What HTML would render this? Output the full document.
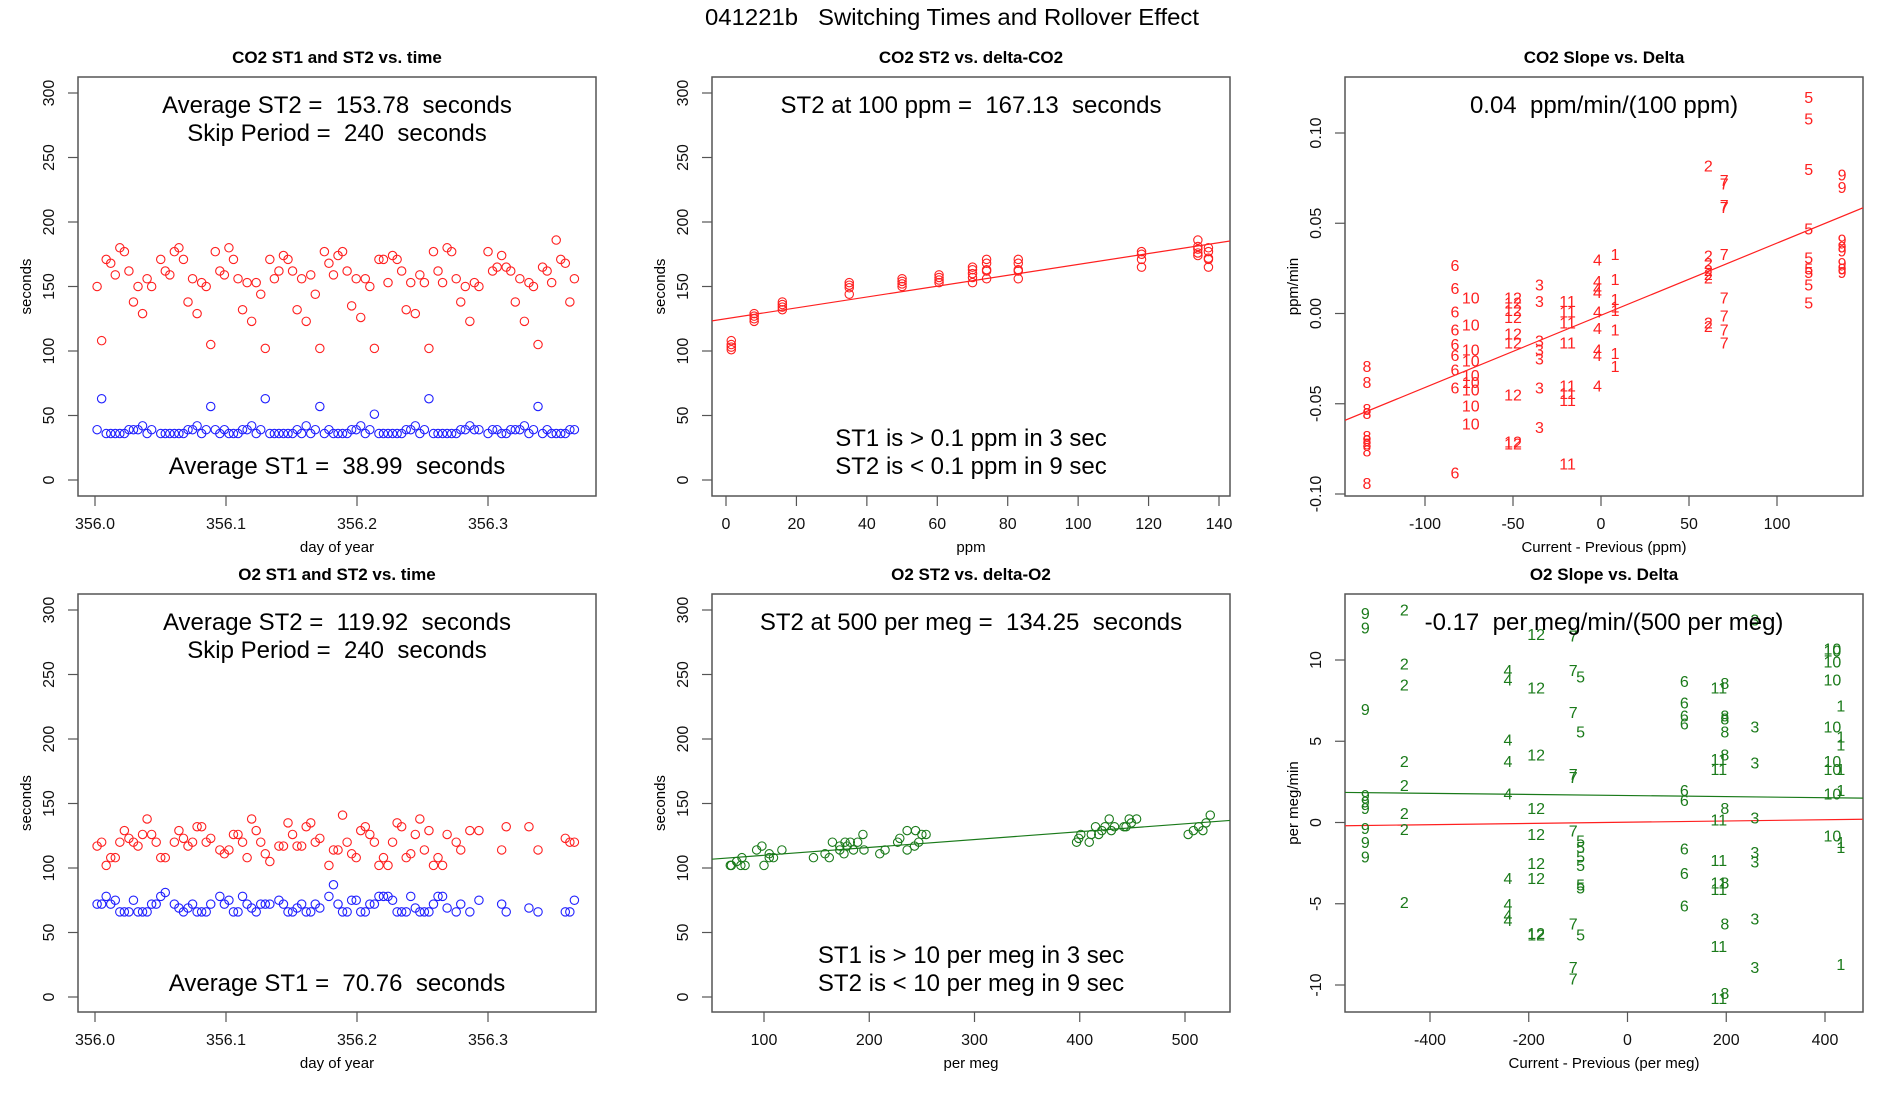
<!DOCTYPE html>
<html><head><meta charset="utf-8"><title>041221b Switching Times and Rollover Effect</title>
<style>html,body{margin:0;padding:0;background:#fff;}svg{display:block;font-family:"Liberation Sans",Arial,sans-serif;}svg text{white-space:pre;}</style>
</head><body>
<svg id="fig" width="1900" height="1100" viewBox="0 0 1900 1100" xmlns="http://www.w3.org/2000/svg" xml:space="preserve">
<rect x="0" y="0" width="1900" height="1100" fill="#fff"/>
<text x="952" y="25" font-size="23" text-anchor="middle" textLength="494" lengthAdjust="spacingAndGlyphs">041221b   Switching Times and Rollover Effect</text>
</svg>
<script>
// ---------- Panel 1: CO2 ST1/ST2 vs time (slot index -> time) ----------
const co2St2 = [150,108,171,168,159,180,177,162,138,150,129,156,150,null,171,162,159,177,180,171,138,156,129,153,150,105,177,162,159,180,171,156,132,153,123,153,144,102,171,156,162,174,171,162,132,156,123,159,144,102,177,168,159,174,177,162,135,156,126,156,150,102,171,171,153,174,171,162,132,153,129,159,153,102,177,162,153,180,177,156,138,150,123,153,150,null,177,162,165,174,165,162,138,156,123,153,150,105,165,162,153,186,171,168,138,156];
const co2St1 = [39,63,36,36,36,36,36,39,39,39,42,36,39,null,36,36,36,36,36,36,39,39,42,36,39,57,39,36,39,36,36,36,39,39,42,36,39,63,36,36,36,36,36,36,39,36,42,36,39,57,36,39,36,36,36,36,39,39,42,36,39,51,36,36,36,36,36,36,39,39,42,36,39,63,36,36,36,36,36,36,39,39,42,39,39,null,36,39,39,36,36,39,39,39,42,36,39,57,36,39,36,36,36,36,39,39];
const timeStart = 356.0016;
const timeStep = 0.00347;
// ---------- Panel 4: O2 ST1/ST2 vs time ----------
const o2Slots = [0,1,2,3,4,5,6,7,8,9,10,11,12,13,14,15,17,18,19,20,21,22,23,24,25,27,28,29,30,31,32,33,34,35,36,37,38,40,41,42,43,44,45,46,47,48,49,51,52,53,54,55,56,57,58,59,60,61,62,63,64,65,66,67,68,69,70,71,72,73,74,75,76,77,79,80,82,84,89,90,95,97,103,104,105];
const o2St2 = [117,120,102,108,108,120,129,123,120,117,126,138,126,120,108,108,120,129,123,117,120,132,132,120,123,114,111,114,126,126,120,108,138,129,120,111,105,117,117,135,126,117,117,132,135,120,123,102,114,114,141,120,111,108,129,132,126,120,102,108,102,120,135,132,108,111,126,138,114,129,102,108,102,126,120,114,129,129,114,132,132,114,123,120,120];
const o2St1 = [72,72,78,72,75,66,66,66,75,66,66,66,72,72,78,81,72,69,66,69,72,66,66,66,72,78,72,75,66,66,78,72,69,66,72,72,72,75,72,66,66,69,72,66,66,72,69,78,87,72,66,66,75,75,66,66,72,72,78,78,78,75,66,66,66,78,69,66,66,66,72,78,78,69,66,72,66,75,72,66,69,66,66,66,75];
// ---------- Panel 2: CO2 ST2 vs delta ----------
const co2DeltaX = [1.5,1.5,1.5,1.5,8,8,8,8,16,16,16,16,35,35,35,35,50,50,50,50,60.5,60.5,60.5,60.5,70,70,70,70,70,74,74,74,74,74,83,83,83,83,83,118,118,118,118,134,134,134,134,134,137,137,137,137,137];
const co2DeltaY = [101,103,105,108,123,125,127,129,132,134,136,138,144,149,151,153,150,152,154,156,153,155,157,159,153,157,160,163,165,156,162,163,168,171,156,162,163,168,171,165,171,175,177,174,176,179,181,186,165,171,172,177,180];
const co2FitIntercept = 125.0;
const co2FitSlope = 0.4213;
// ---------- Panel 3: CO2 slope vs delta (numbered labels) ----------
const co2SlopeGroups = ['8','6','10','12','3','11','4','1','2','7','5','9'];
const co2SlopeGroupX = [-133,-83,-74,-50,-35,-19,-2,8,61,70,118,137];
const co2SlopeVals = [
 [-0.029,-0.038,-0.053,-0.055,-0.068,-0.070,-0.072,-0.076,-0.094],
 [0.027,0.014,0.001,-0.009,-0.017,-0.023,-0.031,-0.041,-0.088],
 [0.009,-0.006,-0.020,-0.026,-0.034,-0.038,-0.042,-0.051,-0.061],
 [0.009,0.006,0.002,-0.002,-0.011,-0.016,-0.045,-0.071,-0.072],
 [0.016,0.007,-0.015,-0.020,-0.025,-0.041,-0.063],
 [0.007,0.001,-0.005,-0.016,-0.040,-0.044,-0.048,-0.083],
 [0.030,0.018,0.014,0.012,0.001,-0.008,-0.020,-0.023,-0.040],
 [0.033,0.019,0.008,0.004,0.002,-0.009,-0.022,-0.029],
 [0.082,0.032,0.028,0.024,0.022,0.020,-0.005,-0.007],
 [0.074,0.072,0.060,0.059,0.033,0.009,-0.001,-0.009,-0.016],
 [0.120,0.108,0.080,0.047,0.031,0.025,0.023,0.016,0.006],
 [0.077,0.070,0.041,0.037,0.035,0.028,0.025,0.023]
];
const co2SlopeFitIntercept = -0.001;
const co2SlopeFitSlope = 0.0004;
// ---------- Panel 5: O2 ST2 vs delta ----------
const o2DeltaX = [68,69,74,79,78,82,93,98,100,105,105,109,117,147,158,162,165,172,172,176,177,179,182,185,189,194,195,210,215,227,229,236,236,243,244,247,250,254,397,399,401,409,411,415,418,421,424,428,430,433,442,444,447,449,454,503,508,513,517,520,524];
const o2DeltaY = [102,102,105,108,102,102,114,117,102,111,108,108,114,108,111,108,120,117,114,111,120,117,120,114,120,126,114,111,114,120,123,129,114,117,129,120,126,126,120,123,126,120,126,132,126,129,132,138,129,132,132,132,138,135,138,126,129,132,129,135,141];
const o2FitIntercept = 103.75;
const o2FitSlope = 0.061;
// ---------- Panel 6: O2 slope vs delta ----------
const o2SlopeGroups = ['9','2','4','12','7','5','6','11','8','3','10','1'];
const o2SlopeGroupX = [-531,-452,-242,-185,-110,-95,115,185,197,258,415,432];
const o2SlopeVals = [
 [12.9,12.0,7.0,1.7,1.3,0.9,-0.35,-1.2,-2.1],
 [13.1,9.8,8.5,3.8,2.3,0.6,-0.4,-4.9],
 [9.4,8.8,5.1,3.8,1.8,-3.4,-5.0,-5.7,-6.0],
 [11.6,8.3,4.2,0.9,-0.7,-2.5,-3.4,-6.8,-6.9],
 [11.5,9.4,6.8,3.0,2.8,-0.5,-6.2,-8.9,-9.6],
 [9.0,5.6,-1.1,-1.5,-2.1,-2.6,-3.8,-4.0,-6.9],
 [8.7,7.4,6.6,6.1,2.0,1.4,-1.6,-3.1,-5.1],
 [8.3,3.9,3.3,0.2,-2.3,-3.7,-4.1,-7.6,-10.8],
 [8.6,6.6,6.4,5.6,4.2,0.9,-3.7,-6.2,-10.5],
 [12.5,5.9,3.7,0.3,-1.8,-2.4,-5.9,-8.9],
 [10.7,10.6,9.9,8.8,5.9,3.8,3.3,1.8,-0.8],
 [7.2,5.3,4.8,3.3,2.0,-1.2,-1.5,-8.7]
];
const o2GreenFitIntercept = 1.66;
const o2GreenFitSlope = -0.000333;
const o2RedFitIntercept = 0.018;
const o2RedFitSlope = 0.00038;
// ---------- Tick labels ----------
const timeTicks = [356.0,356.1,356.2,356.3];
const secondsTicks = [0,50,100,150,200,250,300];
const ppmTicks = [0,20,40,60,80,100,120,140];
const co2DiffTicks = [-100,-50,0,50,100];
const co2SlopeTicks = [-0.10,-0.05,0.00,0.05,0.10];
const permegTicks = [100,200,300,400,500];
const o2DiffTicks = [-400,-200,0,200,400];
const o2SlopeTicks = [-10,-5,0,5,10];

const NS = 'http://www.w3.org/2000/svg';
const svg = document.getElementById('fig');
function mk(tag, attrs, parent) {
  const e = document.createElementNS(NS, tag);
  for (const k in attrs) e.setAttribute(k, attrs[k]);
  (parent || svg).appendChild(e);
  return e;
}
function lin(d0, p0, d1, p1) { return v => p0 + (v - d0) * (p1 - p0) / (d1 - d0); }

const cols = [[78,596],[712,1230],[1345,1863]];
const rows = [[77,496],[594,1012]];
let clipN = 0;

function panel(name, ci, ri, title, xs, ys, xticks, yticks, xfmt, yfmt, xlabel, ylabel) {
  const g = mk('g', {});
  
  
  const [L, R] = cols[ci], [T, B] = rows[ri];
  const t = mk('text', {x: (L + R) / 2, y: T - 14, 'font-size': 17, 'font-weight': 'bold', 'text-anchor': 'middle'}, g);
  t.textContent = title;
  
  
  const box = mk('rect', {x: L, y: T, width: R - L, height: B - T, fill: 'none', stroke: '#555', 'stroke-width': 1.5}, g);
  
  
  const xa = mk('g', {}, g);
  
  
  xticks.forEach(v => {
    const px = xs(v);
    mk('line', {x1: px, y1: B, x2: px, y2: B + 10, stroke: '#555', 'stroke-width': 1.2}, xa);
    const lt = mk('text', {x: px, y: B + 33, 'font-size': 16, 'text-anchor': 'middle', fill: '#111'}, xa);
    lt.textContent = xfmt(v);
    
    
  });
  const xl = mk('text', {x: (L + R) / 2, y: B + 56, 'font-size': 15, 'text-anchor': 'middle'}, g);
  xl.textContent = xlabel;
  
  
  const ya = mk('g', {}, g);
  
  
  yticks.forEach(v => {
    const py = ys(v);
    mk('line', {x1: L - 10, y1: py, x2: L, y2: py, stroke: '#555', 'stroke-width': 1.2}, ya);
    const lt = mk('text', {x: L - 24, y: py, 'font-size': 16, 'text-anchor': 'middle', fill: '#111', transform: `rotate(-90 ${L - 24} ${py})`}, ya);
    lt.textContent = yfmt(v);
    
    
  });
  const yx = L - 47, yy = (T + B) / 2;
  const yl = mk('text', {x: yx, y: yy, 'font-size': 15, 'text-anchor': 'middle', transform: `rotate(-90 ${yx} ${yy})`}, g);
  yl.textContent = ylabel;
  
  
  const id = 'clip' + (clipN++);
  const cp = mk('clipPath', {id: id}, g);
  mk('rect', {x: L, y: T, width: R - L, height: B - T}, cp);
  const plot = mk('g', {'clip-path': `url(#${id})`}, g);
  
  
  return {g, plot, L, R, T, B};
}
function note(p, y, txt, name) {
  const t = mk('text', {x: (p.L + p.R) / 2, y: y, 'font-size': 24, 'text-anchor': 'middle', fill: '#000'}, p.g);
  t.textContent = txt;
  
  
}
function circle(p, x, y, color, name) {
  const c = mk('circle', {cx: x, cy: y, r: 4.2, fill: 'none', stroke: color, 'stroke-width': 1.1}, p.plot);
  
  
}
function fitLine(p, xs, ys, x0, x1, a, b, color, name) {
  const l = mk('line', {x1: xs(x0), y1: ys(a + b * x0), x2: xs(x1), y2: ys(a + b * x1), stroke: color, 'stroke-width': 1.2}, p.plot);
  
  
}
function label(p, x, y, txt, color, name) {
  const t = mk('text', {x: x, y: y + 6, 'font-size': 16, 'text-anchor': 'middle', fill: color}, p.plot);
  t.textContent = txt;
  
  
}
const RED = '#ff2020', BLUE = '#2020ff', GREEN = '#1a7a1a';
const fmt0 = v => String(v);
const fmt1 = v => v.toFixed(1);
const fmt2 = v => v.toFixed(2);

// Panel 1
(function () {
  const xs = lin(356.0, 95, 356.3, 488), ys = lin(0, 480, 300, 93);
  const p = panel('co2-time-panel', 0, 0, 'CO2 ST1 and ST2 vs. time', xs, ys, timeTicks, secondsTicks, fmt1, fmt0, 'day of year', 'seconds');
  co2St2.forEach((v, i) => { if (v !== null) circle(p, xs(timeStart + i * timeStep), ys(v), RED, 'co2-st2-point'); });
  co2St1.forEach((v, i) => { if (v !== null) circle(p, xs(timeStart + i * timeStep), ys(v), BLUE, 'co2-st1-point'); });
  note(p, 113, 'Average ST2 =  153.78  seconds', 'average-st2-note');
  note(p, 141, 'Skip Period =  240  seconds', 'skip-period-note');
  note(p, 474, 'Average ST1 =  38.99  seconds', 'average-st1-note');
})();
// Panel 2
(function () {
  const xs = lin(0, 726, 140, 1219), ys = lin(0, 480, 300, 93);
  const p = panel('co2-delta-panel', 1, 0, 'CO2 ST2 vs. delta-CO2', xs, ys, ppmTicks, secondsTicks, fmt0, fmt0, 'ppm', 'seconds');
  fitLine(p, xs, ys, -10, 160, co2FitIntercept, co2FitSlope, RED, 'co2-fit-line');
  co2DeltaX.forEach((x, i) => circle(p, xs(x), ys(co2DeltaY[i]), RED, 'co2-delta-point'));
  note(p, 113, 'ST2 at 100 ppm =  167.13  seconds', 'st2-at-100-note');
  note(p, 446, 'ST1 is > 0.1 ppm in 3 sec', 'st1-threshold-note');
  note(p, 474, 'ST2 is < 0.1 ppm in 9 sec', 'st2-threshold-note');
})();
// Panel 3
(function () {
  const xs = lin(-100, 1425, 100, 1777), ys = lin(-0.10, 494, 0.10, 133);
  const p = panel('co2-slope-panel', 2, 0, 'CO2 Slope vs. Delta', xs, ys, co2DiffTicks, co2SlopeTicks, fmt0, fmt2, 'Current - Previous (ppm)', 'ppm/min');
  fitLine(p, xs, ys, -160, 160, co2SlopeFitIntercept, co2SlopeFitSlope, RED, 'co2-slope-fit-line');
  co2SlopeGroups.forEach((gname, gi) => co2SlopeVals[gi].forEach(v => label(p, xs(co2SlopeGroupX[gi]), ys(v), gname, RED, 'co2-slope-label')));
  note(p, 113, '0.04  ppm/min/(100 ppm)', 'co2-slope-note');
})();
// Panel 4
(function () {
  const xs = lin(356.0, 95, 356.3, 488), ys = lin(0, 997, 300, 610);
  const p = panel('o2-time-panel', 0, 1, 'O2 ST1 and ST2 vs. time', xs, ys, timeTicks, secondsTicks, fmt1, fmt0, 'day of year', 'seconds');
  o2Slots.forEach((s, i) => circle(p, xs(timeStart + s * timeStep), ys(o2St2[i]), RED, 'o2-st2-point'));
  o2Slots.forEach((s, i) => circle(p, xs(timeStart + s * timeStep), ys(o2St1[i]), BLUE, 'o2-st1-point'));
  note(p, 630, 'Average ST2 =  119.92  seconds', 'average-st2-note');
  note(p, 658, 'Skip Period =  240  seconds', 'skip-period-note');
  note(p, 991, 'Average ST1 =  70.76  seconds', 'average-st1-note');
})();
// Panel 5
(function () {
  const xs = lin(100, 764, 500, 1185), ys = lin(0, 997, 300, 610);
  const p = panel('o2-delta-panel', 1, 1, 'O2 ST2 vs. delta-O2', xs, ys, permegTicks, secondsTicks, fmt0, fmt0, 'per meg', 'seconds');
  fitLine(p, xs, ys, 30, 560, o2FitIntercept, o2FitSlope, GREEN, 'o2-fit-line');
  o2DeltaX.forEach((x, i) => circle(p, xs(x), ys(o2DeltaY[i]), GREEN, 'o2-delta-point'));
  note(p, 630, 'ST2 at 500 per meg =  134.25  seconds', 'st2-at-500-note');
  note(p, 963, 'ST1 is > 10 per meg in 3 sec', 'st1-threshold-note');
  note(p, 991, 'ST2 is < 10 per meg in 9 sec', 'st2-threshold-note');
})();
// Panel 6
(function () {
  const xs = lin(-400, 1430, 400, 1825), ys = lin(-10, 985, 10, 660);
  const p = panel('o2-slope-panel', 2, 1, 'O2 Slope vs. Delta', xs, ys, o2DiffTicks, o2SlopeTicks, fmt0, fmt0, 'Current - Previous (per meg)', 'per meg/min');
  fitLine(p, xs, ys, -600, 500, o2GreenFitIntercept, o2GreenFitSlope, GREEN, 'o2-slope-fit-line');
  fitLine(p, xs, ys, -600, 500, o2RedFitIntercept, o2RedFitSlope, RED, 'o2-reference-line');
  o2SlopeGroups.forEach((gname, gi) => o2SlopeVals[gi].forEach(v => label(p, xs(o2SlopeGroupX[gi]), ys(v), gname, GREEN, 'o2-slope-label')));
  note(p, 630, '-0.17  per meg/min/(500 per meg)', 'o2-slope-note');
})();
</script>
</body></html>
